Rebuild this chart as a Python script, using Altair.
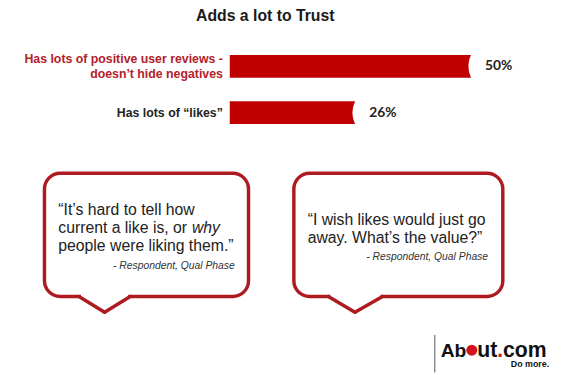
import altair as alt
import pandas as pd

# ---- data ----
categories = ["Has lots of positive user reviews -\ndoesn’t hide negatives", "Has lots of “likes”"]
values = [50, 26]
value_labels = ["50%", "26%"]

title_text = "Adds a lot to Trust"
quote_left_lines = ["“It’s hard to tell how", "current a like is, or", "people were liking them.”"]
quote_left_italic = "why"
quote_right_lines = ["“I wish likes would just go", "away. What’s the value?”"]
attribution = "- Respondent, Qual Phase"
logo_left = "Ab"
logo_mid = "ut"
logo_dot = "."
logo_end = "com"
logo_tag = "Do more."

df = pd.DataFrame({"category": categories, "value": values, "label": value_labels})
one = pd.DataFrame({"k": [0]})

BAR_RED = "#c00000"
LABEL_RED = "#b3202a"
BUBBLE = "#ad1a20"
TXT = "#222222"
LOGO_RED = "#d4141c"
FONT = "Liberation Sans"

xs = alt.Scale(domain=[0, 50], range=[225, 470])
ys = alt.Scale(domain=categories, range=[33, 127], paddingInner=0.51, paddingOuter=0.255)

X = alt.X("value:Q", scale=xs, axis=None)
Y = alt.Y("category:N", scale=ys, axis=None, sort=categories)

base = alt.Chart(df)

bars = base.mark_bar(color=BAR_RED).encode(x=X, y=Y)

notch_shape = "M0,-1.06 Q-0.52,0 0,1.06 L0.4,1.06 L0.4,-1.06 Z"
notches = base.mark_point(shape=notch_shape, size=529, filled=True, fill="white",
                          strokeWidth=0, opacity=1).encode(x=X, y=Y)

val_text = base.mark_text(align="left", baseline="middle", dx=14, font="Lato",
                          fontWeight="bold", fontSize=14, color=TXT).encode(
    x=X, y=Y, text="label:N")

label_color = alt.Color("category:N", scale=alt.Scale(domain=categories, range=[LABEL_RED, TXT]),
                        legend=None)
cat_props = dict(align="right", baseline="middle", lineBreak="\n", lineHeight=15,
                 font=FONT, fontWeight="bold", fontSize=12.5)
cat_text_multi = base.transform_filter(
    alt.FieldOneOfPredicate(field="category", oneOf=[categories[0]])
).mark_text(dy=-7.5, **cat_props).encode(x=alt.value(218), y=Y, text="category:N", color=label_color)
cat_text_single = base.transform_filter(
    alt.FieldOneOfPredicate(field="category", oneOf=[categories[1]])
).mark_text(**cat_props).encode(x=alt.value(218), y=Y, text="category:N", color=label_color)

title = alt.Chart(one).mark_text(align="center", baseline="middle", font=FONT,
                                 fontWeight="bold", fontSize=16, color="#1a1a1a").encode(
    x=alt.value(261), y=alt.value(6), text=alt.value(title_text))

def bubble(x0, x1, y0, y1, t0, tip, t1):
    rect = alt.Chart(one).mark_rect(cornerRadius=16, fill="white", stroke=BUBBLE,
                                    strokeWidth=3.5).encode(
        x=alt.value(x0), x2=alt.value(x1), y=alt.value(y0), y2=alt.value(y1))
    cover = alt.Chart(one).mark_rule(color="white", strokeWidth=5).encode(
        x=alt.value(t0 + 2), x2=alt.value(t1 - 2), y=alt.value(y1))
    l1 = alt.Chart(one).mark_rule(color=BUBBLE, strokeWidth=3.5, strokeCap="round").encode(
        x=alt.value(t0), y=alt.value(y1), x2=alt.value(tip[0]), y2=alt.value(tip[1]))
    l2 = alt.Chart(one).mark_rule(color=BUBBLE, strokeWidth=3.5, strokeCap="round").encode(
        x=alt.value(tip[0]), y=alt.value(tip[1]), x2=alt.value(t1), y2=alt.value(y1))
    return [rect, cover, l1, l2]

left_bubble = bubble(37, 244, 165, 290, 72, (98, 306), 124)
right_bubble = bubble(290, 502, 165, 290, 325, (352, 306), 380)

qtxt = dict(baseline="middle", font=FONT, fontSize=16, color=TXT)
ql = alt.Chart(one).mark_text(align="left", lineBreak="\n", lineHeight=18.5, **qtxt).encode(
    x=alt.value(51), y=alt.value(202), text=alt.value("\n".join(quote_left_lines)))
ql_it = alt.Chart(one).mark_text(align="right", fontStyle="italic", **qtxt).encode(
    x=alt.value(215), y=alt.value(220.5), text=alt.value(quote_left_italic))
qr = alt.Chart(one).mark_text(align="left", lineBreak="\n", lineHeight=19, **qtxt).encode(
    x=alt.value(304), y=alt.value(212), text=alt.value("\n".join(quote_right_lines)))

atxt = dict(align="right", baseline="middle", font=FONT, fontSize=10.5, fontStyle="italic",
            color="#333333")
al = alt.Chart(one).mark_text(**atxt).encode(x=alt.value(230), y=alt.value(259),
                                             text=alt.value(attribution))
ar = alt.Chart(one).mark_text(**atxt).encode(x=alt.value(487), y=alt.value(250),
                                             text=alt.value(attribution))

# ---- logo ----
FS = 21.5
vline = alt.Chart(one).mark_rule(color="#555555", strokeWidth=1).encode(
    x=alt.value(433), y=alt.value(329), y2=alt.value(367))
ltxt = dict(align="left", baseline="alphabetic", font=FONT, fontWeight="bold", fontSize=FS)
x_ut = 476
x_dot = x_ut + 0.944 * FS
x_com = x_dot + 0.278 * FS
ab = alt.Chart(one).mark_text(**{**ltxt, "align": "right", "fontSize": 19.5, "color": "#111111"}).encode(
    x=alt.value(465), y=alt.value(351), text=alt.value(logo_left))
ball = alt.Chart(one).mark_point(shape="circle", size=125, filled=True, color=LOGO_RED,
                                 opacity=1).encode(x=alt.value(470.5), y=alt.value(344.5))
ut = alt.Chart(one).mark_text(**ltxt, color="#111111").encode(
    x=alt.value(x_ut), y=alt.value(351), text=alt.value(logo_mid))
dot = alt.Chart(one).mark_text(**ltxt, color=LOGO_RED).encode(
    x=alt.value(x_dot), y=alt.value(351), text=alt.value(logo_dot))
com = alt.Chart(one).mark_text(**ltxt, color="#111111").encode(
    x=alt.value(x_com), y=alt.value(351), text=alt.value(logo_end))
tag = alt.Chart(one).mark_text(align="right", baseline="middle", font=FONT, fontWeight="bold",
                               fontSize=9, color="#111111").encode(
    x=alt.value(549), y=alt.value(359), text=alt.value(logo_tag))

chart = alt.layer(
    bars, notches, val_text, cat_text_multi, cat_text_single, title,
    *left_bubble, *right_bubble, ql, ql_it, qr, al, ar,
    vline, ab, ball, ut, dot, com, tag
).properties(
    width=559, height=367, autosize=alt.AutoSizeParams(type="none"), padding=0,
    background="white"
).configure_view(stroke=None)

chart.save("out.html", embed_options={"renderer": "svg", "actions": False})
